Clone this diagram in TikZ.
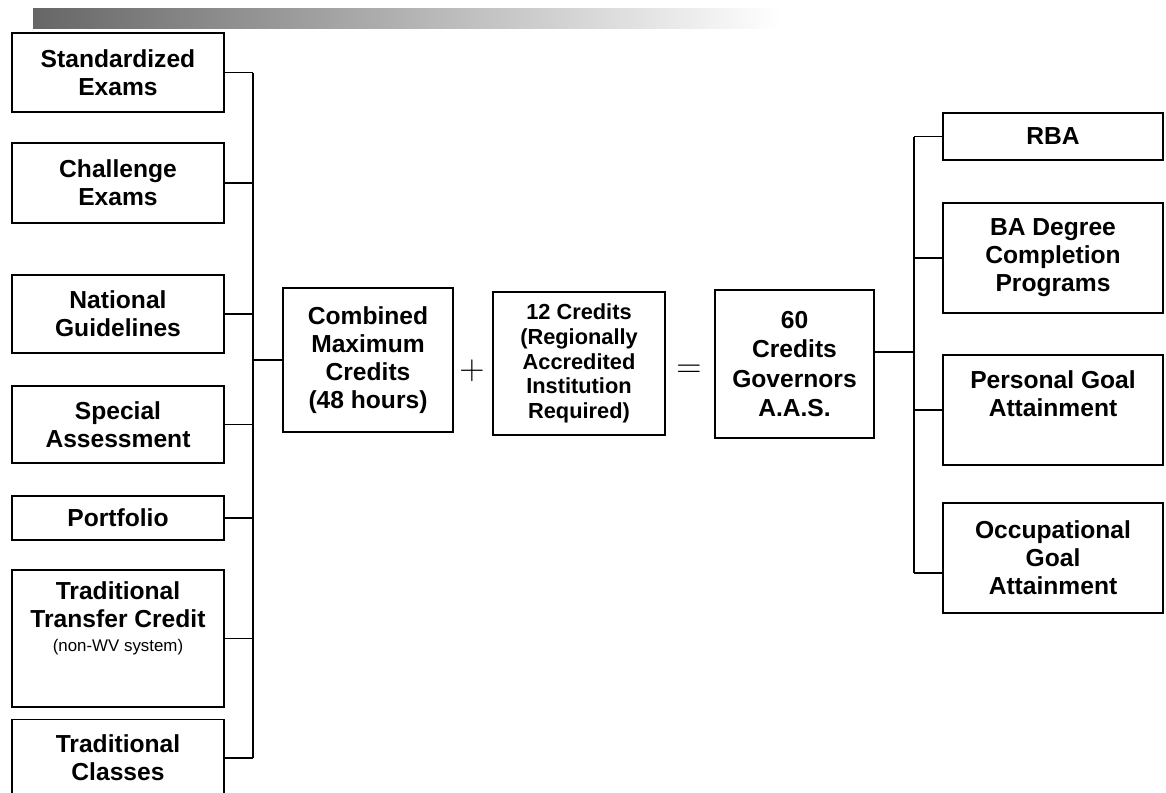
\documentclass[tikz,border=0pt]{standalone}
\usepackage{fontspec}
\setmainfont{Liberation Sans}
\usetikzlibrary{positioning}

\begin{document}
\begin{tikzpicture}[
  x=0.025cm, y=-0.025cm,
  box/.style={rectangle,draw,line width=1.3pt,align=center,inner sep=2pt,
    font=\bfseries\fontsize{17.5}{20}\selectfont},
  src/.style={box,minimum width=5.3cm},
  goal/.style={box,minimum width=5.5cm},
  tag/.style={align=center,inner sep=0pt,font=\bfseries\fontsize{17.5}{20}\selectfont},
  link/.style={line width=1.3pt},
  op/.style={inner sep=0pt,font=\fontsize{30}{30}\selectfont}
]
  \useasboundingbox (0,0) rectangle (1166,792);
  \shade[left color=black!60,middle color=black!40,right color=white] (33,8) rectangle (780,28);

  \node[src,minimum height=1.975cm] (std) at (118,72.5) {Standardized\\Exams};
  \node[src,minimum height=2cm] (chal) at (118,183) {Challenge\\Exams};
  \node[src,minimum height=1.95cm] (natl) at (118,314) {National\\Guidelines};
  \node[src,minimum height=1.925cm] (spec) at (118,424.5) {Special\\Assessment};
  \node[src,minimum height=1.1cm] (port) at (118,518) {Portfolio};
  \node[src,minimum height=3.425cm] (trans) at (118,638.5) {};
  \node[tag,below=0.3cm of trans.north] (transtxt) {Traditional\\Transfer Credit\\[-3pt]
    {\mdseries\fontsize{12}{14}\selectfont (non-WV system)}};
  \node[src,minimum height=1.925cm] (clas) at (118,758) {Traditional\\Classes};

  \node[box,minimum width=4.25cm,minimum height=3.6cm] (comb) at (368,360)
    {Combined\\Maximum\\Credits\\(48 hours)};
  \node[op] (plus) at (472,371) {$+$};
  \node[box,minimum width=4.3cm,minimum height=3.575cm,
    font=\bfseries\fontsize{15.5}{17.5}\selectfont] (cred) at (579,363.5)
    {12 Credits\\(Regionally\\Accredited\\Institution\\Required)};
  \node[op] (eq) at (689,371) {$=$};
  \node[box,minimum width=3.975cm,minimum height=3.7cm,
    font=\bfseries\fontsize{17.5}{21}\selectfont] (gov) at (794.5,364)
    {60\\Credits\\Governors\\A.A.S.};

  \node[goal,minimum height=1.175cm] (rba) at (1053,136.5) {RBA};
  \node[goal,minimum height=2.75cm] (bade) at (1053,258) {BA Degree\\Completion\\Programs};
  \node[goal,minimum height=2.75cm] (pers) at (1053,410) {};
  \node[tag,below=0.4cm of pers.north] (perstxt) {Personal Goal\\Attainment};
  \node[goal,minimum height=2.75cm] (occ) at (1053,558) {Occupational\\Goal\\Attainment};

  \coordinate (lb) at (253,0);
  \coordinate (rb) at (914,0);
  \coordinate (gout) at ([yshift=0.3cm]gov.east);
  \coordinate (oin) at ([yshift=-0.375cm]occ.west);
  \foreach \n in {std,chal,natl,spec,port,trans,clas}
    \draw[link] (\n.east) -- (\n.east -| lb);
  \draw[link] (std.east -| lb) -- (clas.east -| lb);
  \draw[link] (lb |- comb.west) -- (comb.west);

  \draw[link] (gout) -- (gout -| rb);
  \draw[link] (rb |- rba.west) -- (rb |- oin);
  \foreach \n in {rba,bade,pers}
    \draw[link] (rb |- \n.west) -- (\n.west);
  \draw[link] (rb |- oin) -- (oin);
\end{tikzpicture}
\end{document}
